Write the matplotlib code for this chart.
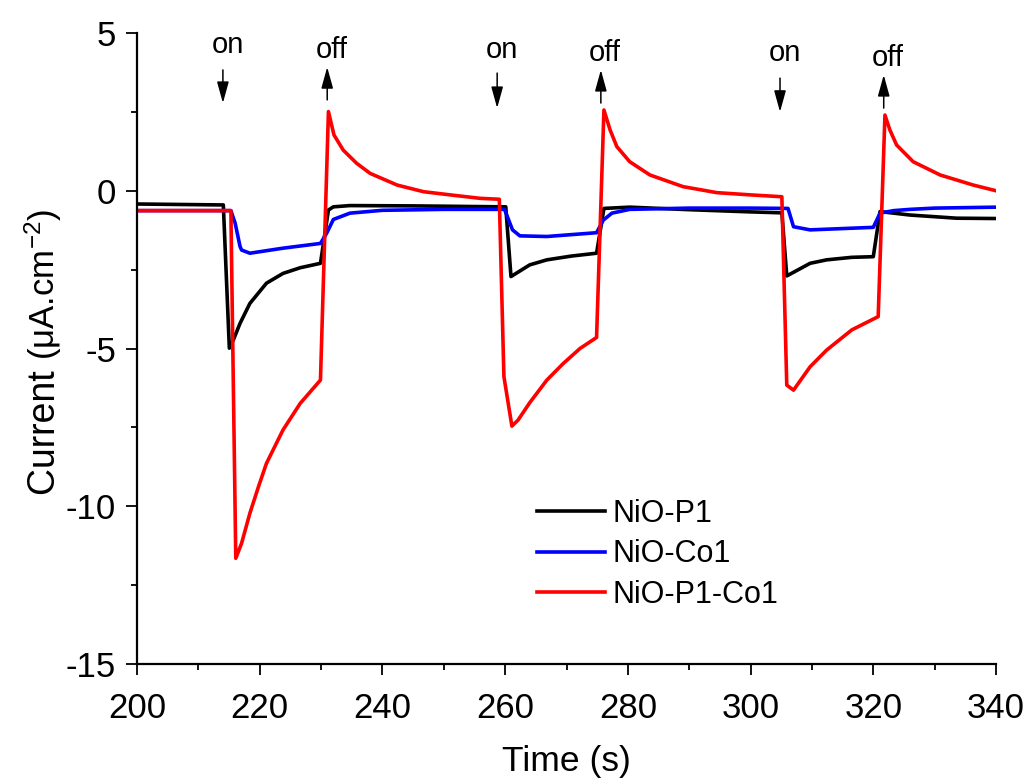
import matplotlib.pyplot as plt

# data
black_t = [200, 214.07, 215.05, 215.7, 216.8, 218.4, 221.1, 223.8, 226.6, 229.9, 231.2, 232.0,
           234.7, 245, 255, 260.1, 260.95, 264.0, 266.8, 270.8, 274.9, 276.1, 280.3, 290, 300,
           305.1, 305.9, 309.7, 312.4, 316.5, 320.0, 321.1, 326.0, 333.6, 340]
black_i = [-0.42, -0.45, -4.99, -4.73, -4.20, -3.57, -2.93, -2.62, -2.44, -2.30, -0.61, -0.51,
           -0.47, -0.48, -0.50, -0.51, -2.72, -2.35, -2.19, -2.07, -1.98, -0.56, -0.52, -0.60, -0.67,
           -0.70, -2.70, -2.30, -2.19, -2.11, -2.09, -0.66, -0.77, -0.87, -0.88]

blue_t = [200, 215.3, 216.0, 216.8, 217.05, 218.4, 223.8, 229.9, 230.9, 232.0, 234.7, 240, 250,
          259.9, 261.2, 262.4, 266.8, 274.9, 276.0, 277.4, 280.3, 290, 300, 306.1, 307.0, 309.7,
          320.0, 321.1, 323.3, 326.0, 330, 340]
blue_i = [-0.63, -0.63, -1.03, -1.77, -1.88, -1.98, -1.82, -1.67, -1.35, -0.91, -0.71, -0.62, -0.59,
          -0.59, -1.24, -1.43, -1.45, -1.33, -0.93, -0.71, -0.59, -0.55, -0.55, -0.56, -1.14, -1.24,
          -1.16, -0.71, -0.63, -0.59, -0.55, -0.52]

red_t = [200, 215.3, 216.1, 217.05, 218.4, 219.8, 221.1, 223.8, 226.6, 229.9,
         231.2, 232.1, 233.6, 235.8, 238.0, 242.4, 246.7, 251.0, 255.9, 259.05,
         259.8, 261.1, 262.1, 264.0, 266.8, 269.5, 272.2, 274.9,
         276.1, 277.1, 278.2, 280.3, 283.6, 289.0, 294.5, 299.9, 305.1,
         305.9, 307.0, 309.7, 312.4, 316.5, 320.8,
         321.9, 322.7, 323.8, 326.5, 330.9, 336.3, 340]
red_i = [-0.63, -0.63, -11.65, -11.17, -10.22, -9.38, -8.64, -7.58, -6.74, -6.00,
         2.51, 1.77, 1.29, 0.87, 0.55, 0.18, -0.03, -0.13, -0.24, -0.27,
         -5.89, -7.46, -7.27, -6.72, -6.00, -5.47, -5.00, -4.65,
         2.56, 1.93, 1.40, 0.92, 0.50, 0.13, -0.06, -0.13, -0.19,
         -6.16, -6.32, -5.58, -5.05, -4.41, -3.99,
         2.40, 1.93, 1.45, 0.92, 0.50, 0.18, 0.00]

labels = ["NiO-P1", "NiO-Co1", "NiO-P1-Co1"]
colors = ["black", "#0000ff", "#ff0000"]

# light switching marks: label, arrow time, arrow start, arrow end, text time, text level
events = [
    ("on", 214.0, 3.83, 2.78, 214.9, 4.62),
    ("off", 231.0, 2.88, 3.92, 231.8, 4.46),
    ("on", 258.7, 3.73, 2.62, 259.5, 4.46),
    ("off", 275.6, 2.78, 3.83, 276.3, 4.37),
    ("on", 304.8, 3.57, 2.50, 305.6, 4.37),
    ("off", 321.7, 2.62, 3.67, 322.4, 4.21),
]

plt.rcParams['font.family'] = ['Liberation Sans', 'DejaVu Sans']
plt.rcParams['axes.unicode_minus'] = False
plt.rcParams['mathtext.fontset'] = 'custom'
plt.rcParams['mathtext.rm'] = 'Liberation Sans'
plt.rcParams['mathtext.it'] = 'Liberation Sans'

fig = plt.figure(figsize=(10.27, 7.8), dpi=100)
ax = fig.add_axes([137 / 1027, 1 - 664 / 780, (996 - 137) / 1027, (664 - 33) / 780])

for t, i, c, lab in zip([black_t, blue_t, red_t], [black_i, blue_i, red_i], colors, labels):
    ax.plot(t, i, color=c, lw=2.6, label=lab, solid_joinstyle='round')

for lab, tx, y0, y1, ttx, ty in events:
    ax.annotate('', xy=(tx, y1), xytext=(tx, y0),
                arrowprops=dict(arrowstyle='-|>,head_length=0.65,head_width=0.18',
                                color='black', lw=1.1, shrinkA=0, shrinkB=0,
                                mutation_scale=20))
    ax.text(ttx, ty, lab, ha='center', va='center', fontsize=21)

ax.set_xlim(200, 340)
ax.set_ylim(-15, 5)
ax.set_xticks(range(200, 341, 20))
ax.set_xticks(range(210, 340, 20), minor=True)
ax.set_yticks([-15, -10, -5, 0, 5])
ax.set_yticks([-12.5, -7.5, -2.5, 2.5], minor=True)
ax.spines['top'].set_visible(False)
ax.spines['right'].set_visible(False)
for s in ['left', 'bottom']:
    ax.spines[s].set_linewidth(1.6)
ax.tick_params(which='major', direction='out', length=8, width=1.3, labelsize=25)
ax.tick_params(which='minor', direction='out', length=4.5, width=1.3)
ax.tick_params(axis='x', which='major', pad=12)
ax.tick_params(axis='y', which='major', pad=7)

ax.legend(frameon=False, loc='upper left', bbox_to_anchor=(0.466, 0.262),
          borderaxespad=0, borderpad=0, fontsize=22, handlelength=2.2,
          handletextpad=0.25, labelspacing=0.35)

fig.text(0.5518, 0.012, "Time (s)", ha='center', va='baseline', fontsize=25.5)

# y label: larger "Current", smaller units, baselines kept in line
t1 = fig.text(55 / 1027, (780 - 495) / 780, "Current ", rotation=90, rotation_mode='anchor',
              ha='left', va='baseline', fontsize=27)
fig.canvas.draw()
bb = t1.get_window_extent()
fig.text(55 / 1027, bb.y1 / fig.bbox.height, "(μA.cm$^{-2}$)", rotation=90,
         rotation_mode='anchor', ha='left', va='baseline', fontsize=25)

fig.savefig("out.png", dpi=100)
